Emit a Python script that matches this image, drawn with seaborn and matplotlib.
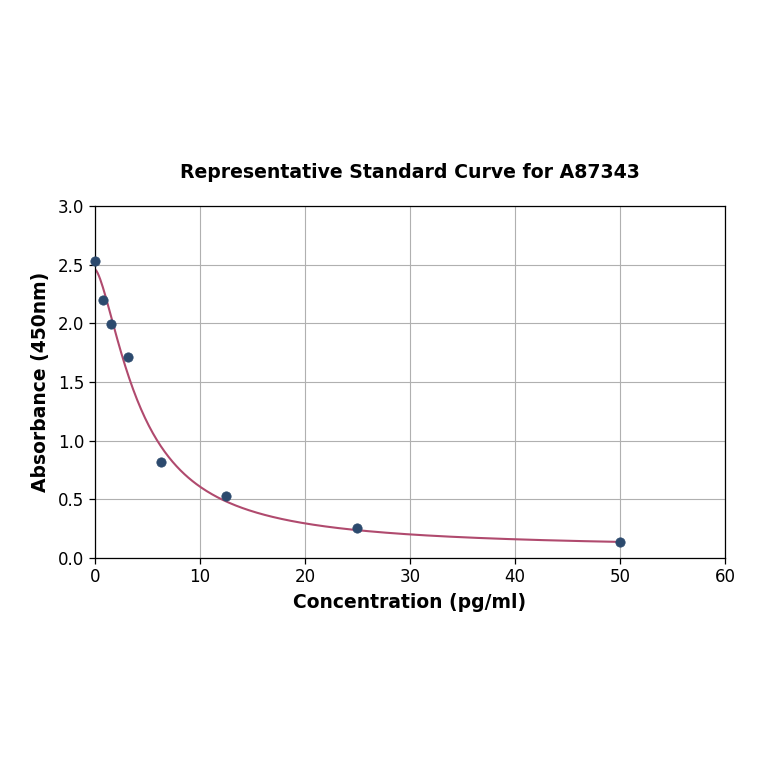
import numpy as np
import pandas as pd
import matplotlib
matplotlib.use("Agg")
import matplotlib.pyplot as plt
import seaborn as sns

# Data
concentration = [0.0, 0.78, 1.56, 3.125, 6.25, 12.5, 25.0, 50.0]
absorbance = [2.53, 2.20, 1.99, 1.71, 0.82, 0.53, 0.26, 0.14]

# 4PL fit parameters estimated from the drawn curve
fit_top = 2.46
fit_slope = 1.52
fit_ec50 = 4.38
fit_bottom = 0.08

x_ticks = [0, 10, 20, 30, 40, 50, 60]
y_ticks = [0.0, 0.5, 1.0, 1.5, 2.0, 2.5, 3.0]

sns.set_style("white")
plt.rcParams['font.family'] = ['DejaVu Sans']
plt.rcParams['text.color'] = 'black'
plt.rcParams['axes.labelcolor'] = 'black'
plt.rcParams['xtick.color'] = 'black'
plt.rcParams['ytick.color'] = 'black'

fig = plt.figure(figsize=(7.64, 7.64), dpi=100)
ax = fig.add_axes([0.1243, 0.2696, 0.8247, 0.4608])

xs = np.linspace(0, max(concentration), 400)
ys = fit_bottom + (fit_top - fit_bottom) / (1 + (xs / fit_ec50) ** fit_slope)
curve = pd.DataFrame({"x": xs, "y": ys})
pts = pd.DataFrame({"x": concentration, "y": absorbance})

sns.lineplot(data=curve, x="x", y="y", ax=ax, color="#b04a6e", linewidth=1.5, zorder=2)
sns.scatterplot(data=pts, x="x", y="y", ax=ax, color="#2c4a6e", s=45, edgecolor="#2c4a6e", zorder=3, clip_on=False)

ax.set_xlim(0, 60)
ax.set_ylim(0, 3.0)
ax.set_xticks(x_ticks)
ax.set_yticks(y_ticks)
ax.set_xticklabels([str(t) for t in x_ticks])
ax.set_yticklabels([f"{t:.1f}" for t in y_ticks])
ax.grid(True, color="#b0b0b0", linewidth=0.8)
ax.set_axisbelow(True)
for s in ax.spines.values():
    s.set_color("black")
    s.set_linewidth(0.9)
ax.tick_params(axis="both", labelsize=12, length=4, width=0.9, color="black", labelcolor="black", bottom=True, left=True)

ax.set_xlabel("Concentration (pg/ml)", fontsize=13.5, fontweight="bold", labelpad=4.5, color="black")
ax.set_ylabel("Absorbance (450nm)", fontsize=13.5, fontweight="bold", labelpad=6, color="black")
ax.set_title("Representative Standard Curve for A87343", fontsize=13.6, fontweight="bold", pad=20.5, color="black")

fig.savefig("out.png", dpi=100)
